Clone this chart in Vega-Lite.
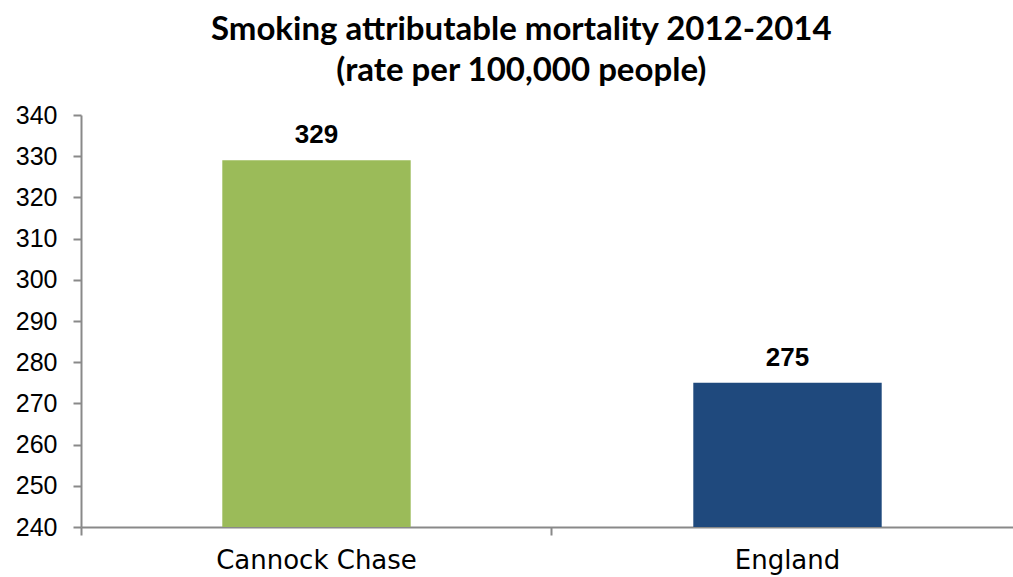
{
  "$schema": "https://vega.github.io/schema/vega-lite/v6.json",
  "width": 942,
  "height": 412,
  "autosize": {"type": "none"},
  "padding": {"left": 81, "top": 115, "right": 0, "bottom": 50},
  "background": "white",
  "title": {
    "text": ["Smoking attributable mortality 2012-2014", "(rate per 100,000 people)"],
    "font": "Lato",
    "fontSize": 33,
    "fontWeight": "bold",
    "color": "black",
    "lineHeight": 41,
    "anchor": "start",
    "dx": 506,
    "align": "center",
    "offset": 15
  },
  "data": {"values": [
    {"area": "Cannock Chase", "rate": 329},
    {"area": "England", "rate": 275}
  ]},
  "encoding": {
    "x": {
      "field": "area", "type": "nominal", "sort": null,
      "scale": {"paddingInner": 0.6, "paddingOuter": 0.3},
      "axis": {
        "title": null, "labelAngle": 0, "labelFont": "DejaVu Sans", "labelFontSize": 26,
        "labelLimit": 400, "labelColor": "black", "labelPadding": 12, "domainColor": "#898989", "domainWidth": 2,
        "tickColor": "#898989", "tickWidth": 2, "tickSize": 8, "bandPosition": -0.75
      }
    },
    "y": {
      "field": "rate", "type": "quantitative",
      "scale": {"domain": [240, 340], "zero": false, "nice": false},
      "axis": {
        "title": null, "values": [240,250,260,270,280,290,300,310,320,330,340],
        "grid": false, "labelFont": "Liberation Sans", "labelFontSize": 25, "labelColor": "black",
        "labelPadding": 16, "domainColor": "#898989", "domainWidth": 2,
        "tickColor": "#898989", "tickWidth": 2, "tickSize": 8
      }
    }
  },
  "layer": [
    {
      "mark": {"type": "bar", "clip": true},
      "encoding": {
        "color": {"field": "area", "type": "nominal", "legend": null,
          "scale": {"domain": ["Cannock Chase", "England"], "range": ["#9BBB59", "#1F497D"]}}
      }
    },
    {
      "mark": {"type": "text", "baseline": "alphabetic", "dy": -17, "font": "Liberation Sans", "fontSize": 26, "fontWeight": "bold", "color": "black"},
      "encoding": {"text": {"field": "rate", "type": "quantitative"}}
    }
  ],
  "config": {"view": {"stroke": null}}
}
